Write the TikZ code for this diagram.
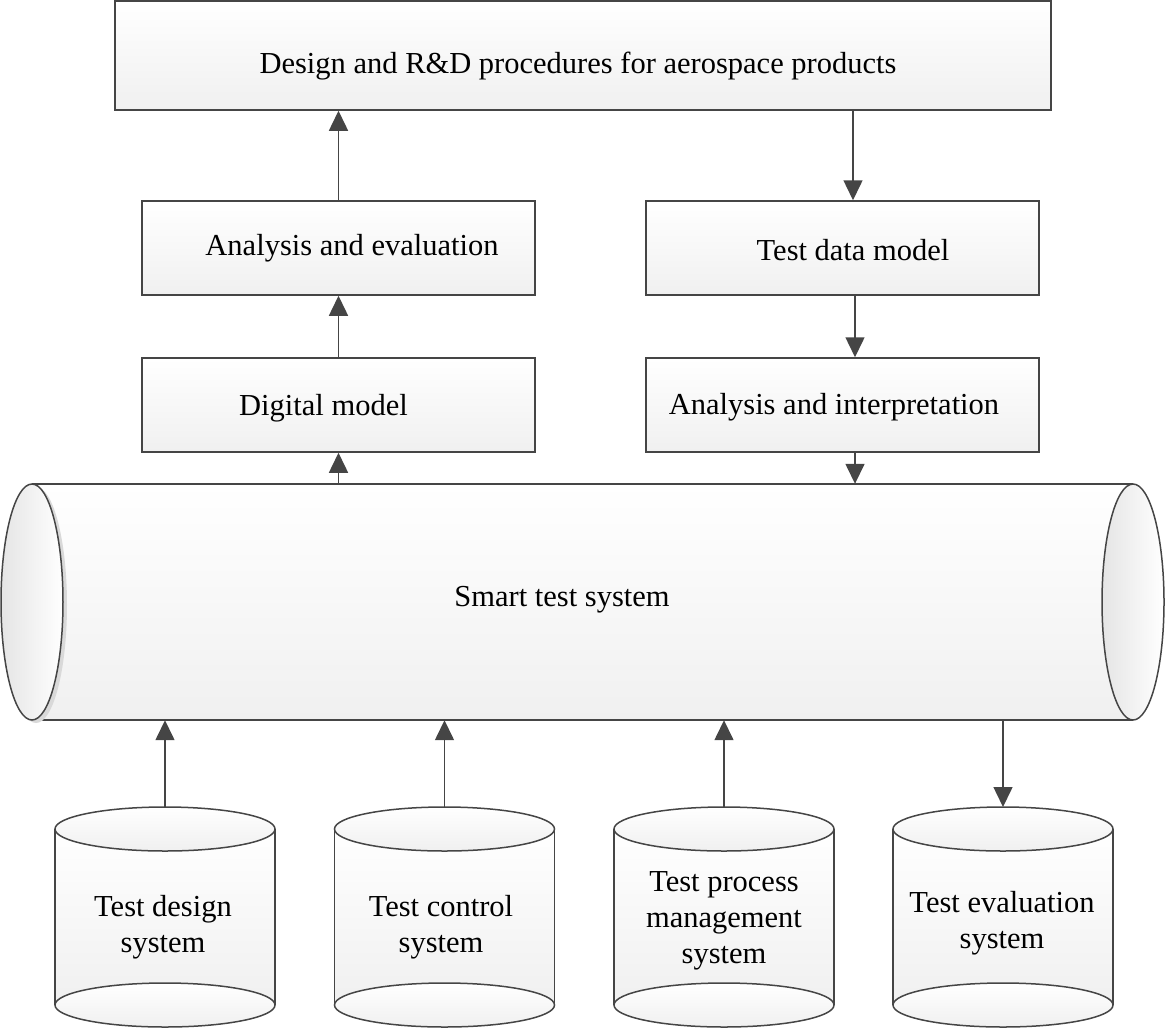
\documentclass[tikz,border=0pt]{standalone}
\usepackage{fontspec}
\setmainfont{Liberation Serif}
\usetikzlibrary{arrows.meta,shapes.geometric}
\definecolor{linec}{HTML}{454545}
\definecolor{shadeb}{HTML}{F0F0F0}
\begin{document}
\begin{tikzpicture}[x=1pt,y=-1pt,
  lw/.style={line width=1.5pt},
  boxst/.style={rectangle, draw=linec, lw, inner sep=0pt, top color=white, bottom color=shadeb},
  txt/.style={font=\fontsize{30.5pt}{36pt}\selectfont, inner sep=0pt, align=center, text=black},
  arr/.style={draw=linec, lw, -{Triangle[length=20pt,width=19pt]}},
  cylbody/.style={top color=white, bottom color=shadeb},
  cylend/.style={draw=linec, lw, left color=shadeb!90!gray, right color=white}
]
\useasboundingbox (0,0) rectangle (1166,1028);

% top box
\node[boxst, minimum width=936pt, minimum height=109pt] (top) at (583,55.5) {};
\node[txt, anchor=base] (topt) at (578,73) {Design and R\&D procedures for aerospace products};

% left column
\node[boxst, minimum width=393pt, minimum height=94pt] (ae) at (338.5,248) {};
\node[txt, anchor=base] (aet) at (352,255) {Analysis and evaluation};
\node[boxst, minimum width=393pt, minimum height=94pt] (dm) at (338.5,405) {};
\node[txt, anchor=base] (dmt) at (323.5,415) {Digital model};

% right column
\node[boxst, minimum width=393pt, minimum height=94pt] (tdm) at (842.5,248) {};
\node[txt, anchor=base] (tdmt) at (853,260) {Test data model};
\node[boxst, minimum width=393pt, minimum height=94pt] (ai) at (842.5,405) {};
\node[txt, anchor=base] (ait) at (834,414) {Analysis and interpretation};

% big horizontal cylinder
\fill[cylbody] (32,484) rectangle (1133,720);
\draw[linec, lw] (32,484) -- (1133,484) (32,720) -- (1133,720);
\fill[gray!30] (36,605) ellipse [x radius=31, y radius=118];
\draw[cylend] (32,602) ellipse [x radius=31, y radius=118];
\draw[cylend] (1133,602) ellipse [x radius=31, y radius=118];
\node[minimum width=1101pt, minimum height=236pt, inner sep=0pt] (sts) at (582.5,602) {};
\node[txt, anchor=base] (stst) at (562,606) {Smart test system};

% bottom cylinders
\foreach \cx/\nm in {165/c1, 444.5/c2, 724/c3, 1003/c4} {
  \fill[cylbody] (\cx-110,829) rectangle (\cx+110,1005);
  \draw[linec, lw, top color=white, bottom color=shadeb] (\cx,1005) ellipse [x radius=110, y radius=22];
  \draw[linec, lw] (\cx-110,829) -- (\cx-110,1005) (\cx+110,829) -- (\cx+110,1005);
  \draw[linec, lw, top color=white, bottom color=shadeb] (\cx,829) ellipse [x radius=110, y radius=22];
  \coordinate (\nm) at (\cx,807);
}
\node[txt] (c1t) at (163,927) {Test design\\system};
\node[txt] (c2t) at (441,927) {Test control\\system};
\node[txt] (c3t) at (724,921) {Test process\\management\\system};
\node[txt] (c4t) at (1002,923) {Test evaluation\\system};

% connectors
\coordinate (rx) at (855,0);
\draw[arr] (ae.north) -- (ae.north |- top.south);
\draw[arr] (dm.north) -- (ae.south);
\draw[arr] (dm.south |- sts.north) -- (dm.south);
\draw[arr] (top.south -| tdmt) -- (tdm.north -| tdmt);
\draw[arr] (tdm.south -| rx) -- (ai.north -| rx);
\draw[arr] (ai.south -| rx) -- (sts.north -| rx);
\draw[arr] (c1) -- (c1 |- sts.south);
\draw[arr] (c2) -- (c2 |- sts.south);
\draw[arr] (c3) -- (c3 |- sts.south);
\draw[arr] (c4 |- sts.south) -- (c4);
\end{tikzpicture}
\end{document}
